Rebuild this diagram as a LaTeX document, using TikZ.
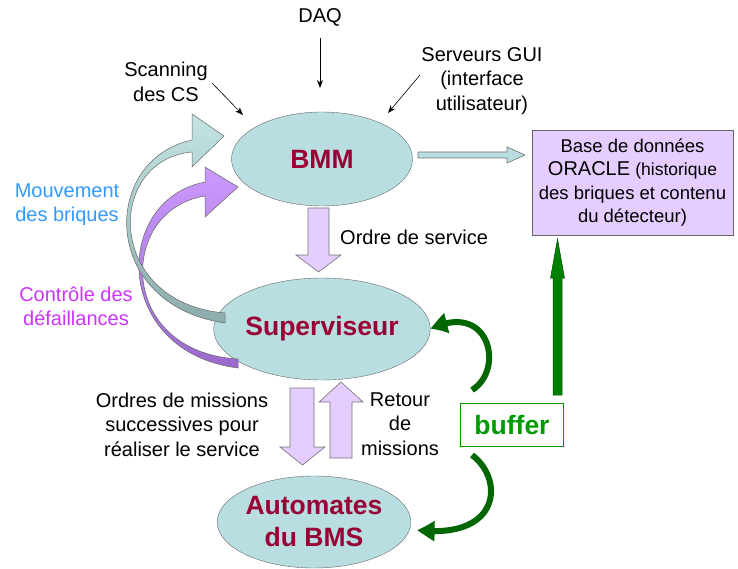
\documentclass[tikz,border=0pt]{standalone}
\usepackage{fontspec}
\setmainfont{Liberation Sans}
\usetikzlibrary{arrows.meta,shapes.geometric,bending}
\definecolor{ellfill}{RGB}{185,222,225}
\definecolor{lav}{RGB}{229,206,255}
\definecolor{darkred}{RGB}{153,0,51}
\definecolor{mblue}{RGB}{51,153,255}
\definecolor{mmag}{RGB}{204,51,255}
\definecolor{bgreen}{RGB}{0,153,0}
\definecolor{dgreen}{RGB}{0,102,0}
\definecolor{tealtop}{RGB}{196,228,228}
\definecolor{tealbot}{RGB}{140,172,172}
\definecolor{purtop}{RGB}{204,153,255}
\definecolor{purbot}{RGB}{155,105,205}
\tikzset{
  ellnode/.style={ellipse, draw=black!60, fill=ellfill, inner sep=0pt, text=darkred,
     font=\fontsize{26.5}{32}\selectfont\bfseries, align=center},
  txt/.style={inner sep=0pt, align=center, font=\fontsize{20}{24.5}\selectfont},
  blockarrow/.style={draw=black!55, line width=0.6pt},
  thinarrow/.style={draw=black, line width=0.6pt, -{Stealth[length=8pt,width=6pt]}},
  greenarc/.style={draw=dgreen, line width=6pt, -{Triangle[length=18pt,width=19pt,bend]}},
}
\begin{document}
\begin{tikzpicture}[x=1pt,y=-1pt]
\useasboundingbox (0,0) rectangle (738,569);

% ellipses
\node[ellnode, minimum width=181pt, minimum height=94pt] (bmm) at (322,159) {BMM};
\node[ellnode, minimum width=182pt, minimum height=102pt] (sup) at (322,329) {Superviseur};
\node[ellnode, minimum width=182pt, minimum height=92pt] (aut) at (314,522) {Automates\\du BMS};

% database box
\node[draw=black!60, fill=lav, minimum width=201pt, minimum height=105pt, inner sep=0pt,
      align=center, font=\fontsize{18.5}{23.5}\selectfont] (db) at (632.5,182.5)
  {Base de données\\{\fontsize{20}{23.5}\selectfont ORACLE} {\fontsize{17.5}{23.5}\selectfont(historique}\\des briques et contenu\\du détecteur)};

% buffer box
\node[draw=bgreen, line width=1.6pt, minimum width=103pt, minimum height=43pt, inner sep=0pt,
      text=bgreen, font=\fontsize{26.5}{32}\selectfont\bfseries] (buf) at (512,425) {buffer};

% text labels
\node[txt] (daq) at (320,17) {DAQ};
\node[txt] (scan) at (166,82) {Scanning\\des CS};
\node[txt] (gui) at (482,81) {Serveurs GUI\\(interface\\utilisateur)};
\node[txt, anchor=west] (ords) at (340,237) {Ordre de service};
\node[txt] (ordm) at (182,424.5) {Ordres de missions\\successives pour\\réaliser le service};
\node[txt] (ret) at (400,424) {Retour\\de\\missions};
\node[txt, text=mblue] (mouv) at (67,204.5) {Mouvement\\des briques};
\node[txt, text=mmag] (ctrl) at (76,306.5) {Contrôle des\\défaillances};

% thin arrows
\coordinate (scanend) at (243,115);
\coordinate (guiend) at (388,113);
\draw[thinarrow] (daq.south) ++(0,12) -- (320,88);
\draw[thinarrow] (212,83) -- (scanend);
\draw[thinarrow] (420,75) -- (guiend);

% block arrow BMM -> DB
\draw[blockarrow, fill=ellfill] (418,152) -- (507,152) -- (507,147) -- (525,155) -- (507,163) -- (507,158) -- (418,158) -- cycle;
% Ordre de service
\draw[blockarrow, fill=lav] (308,208) -- (329,208) -- (329,255) -- (341,255) -- (318.5,272) -- (296,255) -- (308,255) -- cycle;
% down arrow
\draw[blockarrow, fill=lav] (290,388) -- (314,388) -- (314,447) -- (325,447) -- (302.5,465) -- (280,447) -- (290,447) -- cycle;
% up arrow
\draw[blockarrow, fill=lav] (330,458) -- (352,458) -- (352,402) -- (363,402) -- (341,382) -- (319,402) -- (330,402) -- cycle;

% green straight arrow
\draw[draw=black!70!green, fill=green!50!black, line width=0.5pt]
  (553,395) -- (562,395) -- (562,278) -- (564.5,278) -- (557.5,239) -- (550.5,278) -- (553,278) -- cycle;

% green curved arrows
\coordinate (g1s) at (472,390);
\coordinate (g2s) at (472,455);
\coordinate (g2e) at (417,530);
\draw[greenarc] (g1s) .. controls (505,370) and (490,300) .. (sup.east);
\draw[greenarc] (g2s) .. controls (505,480) and (500,540) .. (g2e);

% purple curved arrow
\draw[draw=black!60, line width=0.5pt, top color=purtop, bottom color=purbot]
  (238,368) .. controls (112,352) and (112,200) .. (205,182)
  -- (205,167) -- (238,187) -- (205,217) -- (205,196)
  .. controls (117,210) and (117,352) .. (238,359) -- cycle;
% teal curved arrow
\draw[draw=black!60, line width=0.5pt, top color=tealtop, bottom color=tealbot]
  (225,323) .. controls (100,305) and (100,160) .. (192,140)
  -- (192,114) -- (224,136) -- (192,167) -- (192,152)
  .. controls (105,160) and (105,303) .. (225,313) -- cycle;
\end{tikzpicture}
\end{document}
